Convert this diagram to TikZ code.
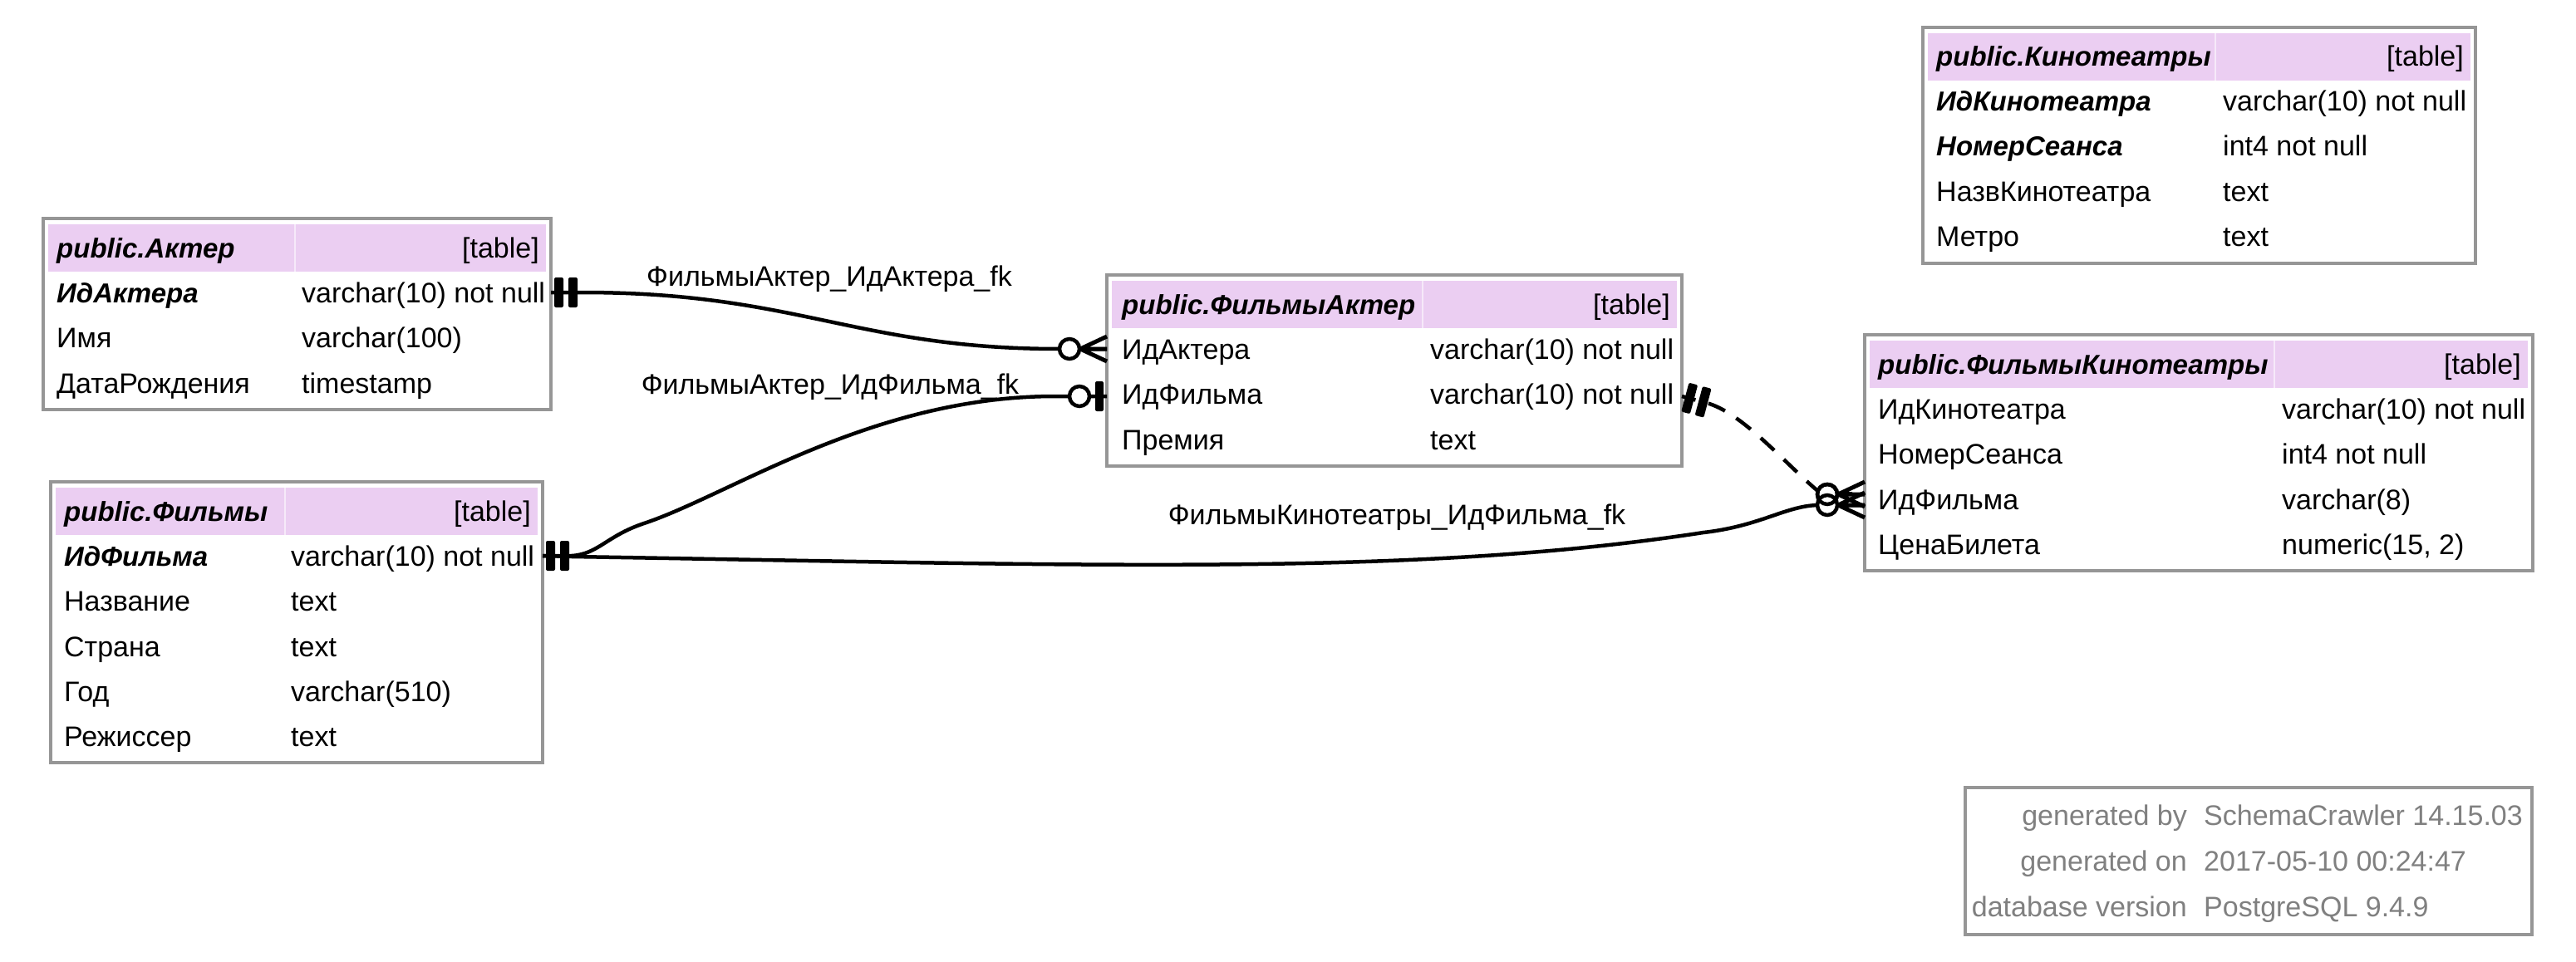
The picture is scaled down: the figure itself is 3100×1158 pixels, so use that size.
\documentclass[tikz,border=0pt]{standalone}
\usepackage{fontspec}
\setmainfont{Liberation Sans}
\definecolor{hdr}{RGB}{235,206,242}
\definecolor{tblgray}{RGB}{150,150,150}
\definecolor{ftgray}{RGB}{128,128,128}
\newcommand\dgfont{\fontsize{34}{40}\selectfont}
\newcommand\dgpkfont{\fontsize{33}{40}\selectfont\bfseries\itshape}
\tikzset{
  pics/teetee/.style={code={
    \fill[rounded corners=2pt] (4,-18) rectangle (15,18);
    \fill[rounded corners=2pt] (21,-18) rectangle (32,18);}},
  pics/crowodot/.style={code={
    \draw[line width=5pt] (-32,0) -- (0,-15) (-32,0) -- (0,0) (-32,0) -- (0,15);
    \draw[line width=4.5pt,fill=white] (-45,0) circle[radius=12pt];}},
  pics/teeodot/.style={code={
    \draw[line width=4.5pt,fill=white] (-33,0) circle[radius=12pt];
    \fill[rounded corners=2pt] (-14,-18) rectangle (-4,18);}}
}
\begin{document}
\begin{tikzpicture}[x=1pt,y=-1pt,
  tbl/.style={draw=tblgray,line width=4pt,inner sep=0pt,outer sep=0pt,fill=white,anchor=north west},
  txt/.style={inner sep=0pt,font=\dgfont,anchor=base west},
  txtr/.style={inner sep=0pt,font=\dgfont,anchor=base east},
  pkt/.style={inner sep=0pt,font=\dgpkfont,anchor=base west},
  lbl/.style={inner sep=0pt,font=\dgfont,anchor=base},
  conn/.style={line width=4.5pt,black},
  ftl/.style={txtr,text=ftgray},
  ftv/.style={txt,text=ftgray},
  hsplit/.style={fill=hdr!45}]
\useasboundingbox (0,0) rectangle (3100,1158);
\fill[white] (0,0) rectangle (3100,1158);

% ---------- public.Актер ----------
\node[tbl,minimum width=611pt,minimum height=230pt] (akt) at (52,263) {};
\fill[hdr] (58,270) rectangle (354,327);
\fill[hdr] (356,270) rectangle (657,327);
\fill[hsplit] (354,270) rectangle (356,327);
\node[pkt] (akt-h) at (68,310) {public.Актер};
\node[txtr] (akt-ht) at (649,310) {[table]};
\node[pkt] (akt-r1n) at (68,364) {ИдАктера};
\node[txt] (akt-r1t) at (363,364) {varchar(10) not null};
\node[txt] (akt-r2n) at (68,418) {Имя};
\node[txt] (akt-r2t) at (363,418) {varchar(100)};
\node[txt] (akt-r3n) at (68,473) {ДатаРождения};
\node[txt] (akt-r3t) at (363,473) {timestamp};

% ---------- public.Фильмы ----------
\node[tbl,minimum width=592pt,minimum height=338pt] (flm) at (61,580) {};
\fill[hdr] (67,587) rectangle (342,644);
\fill[hdr] (344,587) rectangle (647,644);
\fill[hsplit] (342,587) rectangle (344,644);
\node[pkt] (flm-h) at (77,627) {public.Фильмы};
\node[txtr] (flm-ht) at (639,627) {[table]};
\node[pkt] (flm-r1n) at (77,681) {ИдФильма};
\node[txt] (flm-r1t) at (350,681) {varchar(10) not null};
\node[txt] (flm-r2n) at (77,735) {Название};
\node[txt] (flm-r2t) at (350,735) {text};
\node[txt] (flm-r3n) at (77,790) {Страна};
\node[txt] (flm-r3t) at (350,790) {text};
\node[txt] (flm-r4n) at (77,844) {Год};
\node[txt] (flm-r4t) at (350,844) {varchar(510)};
\node[txt] (flm-r5n) at (77,898) {Режиссер};
\node[txt] (flm-r5t) at (350,898) {text};

% ---------- public.ФильмыАктер ----------
\node[tbl,minimum width=692pt,minimum height=230pt] (fa) at (1332,331) {};
\fill[hdr] (1338,338) rectangle (1711,395);
\fill[hdr] (1713,338) rectangle (2018,395);
\fill[hsplit] (1711,338) rectangle (1713,395);
\node[pkt] (fa-h) at (1350,378) {public.ФильмыАктер};
\node[txtr] (fa-ht) at (2010,378) {[table]};
\node[txt] (fa-r1n) at (1350,432) {ИдАктера};
\node[txt] (fa-r1t) at (1721,432) {varchar(10) not null};
\node[txt] (fa-r2n) at (1350,486) {ИдФильма};
\node[txt] (fa-r2t) at (1721,486) {varchar(10) not null};
\node[txt] (fa-r3n) at (1350,541) {Премия};
\node[txt] (fa-r3t) at (1721,541) {text};

% ---------- public.ФильмыКинотеатры ----------
\node[tbl,minimum width=804pt,minimum height=284pt] (fk) at (2244,403) {};
\fill[hdr] (2250,410) rectangle (2736,467);
\fill[hdr] (2738,410) rectangle (3042,467);
\fill[hsplit] (2736,410) rectangle (2738,467);
\node[pkt] (fk-h) at (2260,450) {public.ФильмыКинотеатры};
\node[txtr] (fk-ht) at (3034,450) {[table]};
\node[txt] (fk-r1n) at (2260,504) {ИдКинотеатра};
\node[txt] (fk-r1t) at (2746,504) {varchar(10) not null};
\node[txt] (fk-r2n) at (2260,558) {НомерСеанса};
\node[txt] (fk-r2t) at (2746,558) {int4 not null};
\node[txt] (fk-r3n) at (2260,613) {ИдФильма};
\node[txt] (fk-r3t) at (2746,613) {varchar(8)};
\node[txt] (fk-r4n) at (2260,667) {ЦенаБилета};
\node[txt] (fk-r4t) at (2746,667) {numeric(15, 2)};

% ---------- public.Кинотеатры ----------
\node[tbl,minimum width=665pt,minimum height=284pt] (kt) at (2314,33) {};
\fill[hdr] (2320,40) rectangle (2665,97);
\fill[hdr] (2667,40) rectangle (2973,97);
\fill[hsplit] (2665,40) rectangle (2667,97);
\node[pkt] (kt-h) at (2330,80) {public.Кинотеатры};
\node[txtr] (kt-ht) at (2965,80) {[table]};
\node[pkt] (kt-r1n) at (2330,134) {ИдКинотеатра};
\node[txt] (kt-r1t) at (2675,134) {varchar(10) not null};
\node[pkt] (kt-r2n) at (2330,188) {НомерСеанса};
\node[txt] (kt-r2t) at (2675,188) {int4 not null};
\node[txt] (kt-r3n) at (2330,243) {НазвКинотеатра};
\node[txt] (kt-r3t) at (2675,243) {text};
\node[txt] (kt-r4n) at (2330,297) {Метро};
\node[txt] (kt-r4t) at (2675,297) {text};

% ---------- footer ----------
\node[tbl,minimum width=682pt,minimum height=177pt] (ft) at (2365,948) {};
\node[ftl] (ft-1l) at (2632,993) {generated by};
\node[ftv] (ft-1v) at (2652,993) {SchemaCrawler 14.15.03};
\node[ftl] (ft-2l) at (2632,1048) {generated on};
\node[ftv] (ft-2v) at (2652,1048) {2017-05-10 00:24:47};
\node[ftl] (ft-3l) at (2632,1103) {database version};
\node[ftv] (ft-3v) at (2652,1103) {PostgreSQL 9.4.9};

% ---------- connector anchors ----------
\coordinate (akt-id) at (663,352);
\coordinate (flm-id) at (653,669);
\coordinate (fa-ida) at (1332,420);
\coordinate (fa-idf) at (1332,477);
\coordinate (fa-idf-e) at (2024,477);
\coordinate (fk-idf1) at (2244,595);
\coordinate (fk-idf2) at (2244,608);

% ---------- connectors ----------
\draw[conn] (akt-id) -- (700,352) .. controls (960,352) and (1030,420) .. (1275,420) -- (fa-ida);
\draw[conn] (flm-id) -- (688,669) .. controls (720,667) and (730,645) .. (775,630)
  .. controls (880,595) and (1050,477) .. (1270,477) -- (fa-idf);
\draw[conn] (flm-id) -- (688,670) .. controls (1300,680) and (1700,695) .. (2050,641)
  .. controls (2120,633) and (2150,608) .. (2190,608) -- (fk-idf2);
\draw[conn,dash pattern=on 22pt off 16pt,dash phase=5pt] (fa-idf-e) -- (2057,486)
  .. controls (2100,500) and (2150,560) .. (2190,593) -- (fk-idf1);

% ---------- end marks ----------
\pic at (akt-id) {teetee};
\pic at (flm-id) {teetee};
\pic[rotate=-15] at (fa-idf-e) {teetee};
\pic at (fa-ida) {crowodot};
\pic at (fa-idf) {teeodot};
\pic at (fk-idf1) {crowodot};
\pic at (fk-idf2) {crowodot};
\draw[line width=4.5pt] (2199,595) circle[radius=12pt];

% ---------- labels ----------
\node[lbl] (l1) at (998,344) {ФильмыАктер\_ИдАктера\_fk};
\node[lbl] (l2) at (999,474) {ФильмыАктер\_ИдФильма\_fk};
\node[lbl] (l3) at (1681,631) {ФильмыКинотеатры\_ИдФильма\_fk};
\end{tikzpicture}
\end{document}
